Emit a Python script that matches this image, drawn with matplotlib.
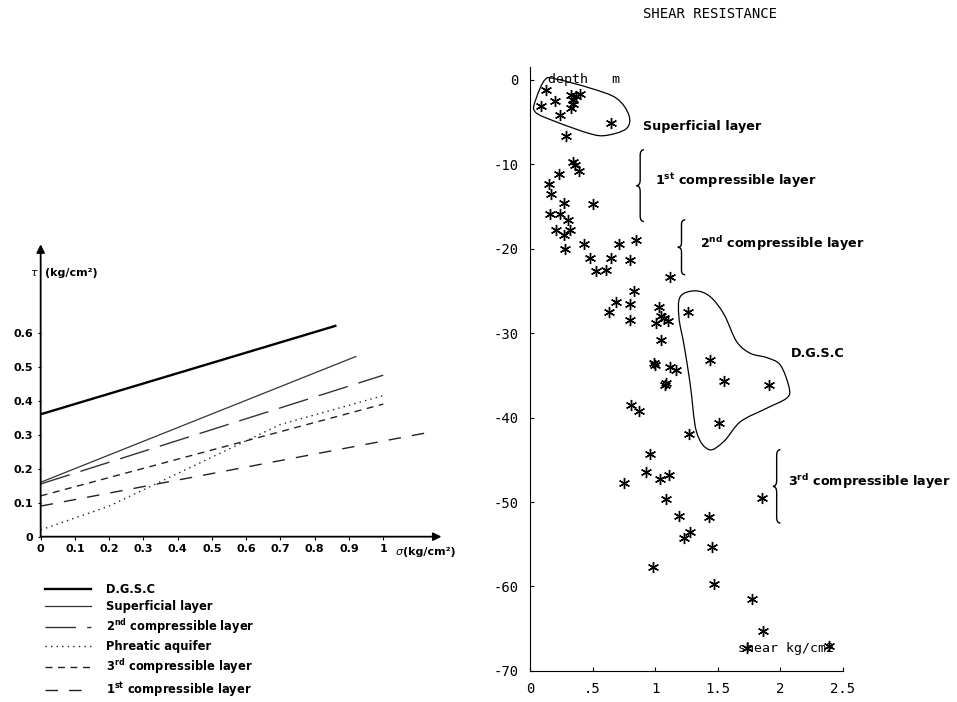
import numpy as np
import matplotlib
matplotlib.use('Agg')
import matplotlib.pyplot as plt
from matplotlib.path import Path
from matplotlib.patches import PathPatch
from matplotlib.lines import Line2D

plt.rcParams['mathtext.default'] = 'regular'

# --- left chart: strength envelopes tau = f(sigma) ---
env_names = ['D.G.S.C', 'Superficial layer', '2$^{nd}$ compressible layer',
             'Phreatic aquifer', '3$^{rd}$ compressible layer', '1$^{st}$ compressible layer']
env_sigma = [[0, 0.86], [0, 0.92], [0, 1.0], [0, 0.2, 0.45, 0.7, 1.0], [0, 1.0], [0, 1.15]]
env_tau = [[0.36, 0.62], [0.16, 0.53], [0.155, 0.475], [0.02, 0.09, 0.21, 0.33, 0.415],
           [0.12, 0.39], [0.09, 0.31]]
sigma_ticks = [0, 0.1, 0.2, 0.3, 0.4, 0.5, 0.6, 0.7, 0.8, 0.9, 1]
sigma_labels = ['0', '0.1', '0.2', '0.3', '0.4', '0.5', '0.6', '0.7', '0.8', '0.9', '1']
tau_ticks = [0, 0.1, 0.2, 0.3, 0.4, 0.5, 0.6]
tau_labels = ['0', '0.1', '0.2', '0.3', '0.4', '0.5', '0.6']

# --- right chart: shear resistance vs depth ---
shear = [0.13, 0.09, 0.20, 0.24, 0.33, 0.37, 0.40, 0.34, 0.34, 0.33, 0.65, 0.29,
         0.34, 0.36, 0.39, 0.23, 0.15, 0.17, 0.27, 0.50, 0.16, 0.24, 0.30, 0.21,
         0.32, 0.27, 0.28, 0.43, 0.71, 0.85, 0.48, 0.65, 0.80, 0.53, 0.61, 1.12,
         0.83, 0.69, 0.80, 0.63, 0.80, 1.03, 1.05, 1.01, 1.10, 1.07, 1.05, 1.26,
         1.00, 0.99, 1.12, 1.17, 1.09, 1.08, 1.44, 1.55, 1.91, 0.81, 0.87, 1.51,
         1.27, 0.96, 0.93, 0.75, 1.04, 1.11, 1.09, 1.19, 1.43, 1.23, 1.28, 1.45,
         0.98, 1.47, 1.85, 1.77, 1.86, 1.73, 2.39]
depth = [-1.2, -3.1, -2.5, -4.2, -1.8, -1.9, -1.7, -2.4, -2.9, -3.3, -5.1, -6.7,
         -9.7, -10.1, -10.8, -11.2, -12.3, -13.5, -14.6, -14.7, -15.9, -15.9, -16.6, -17.8,
         -17.8, -18.4, -20.0, -19.5, -19.4, -19.0, -21.1, -21.1, -21.3, -22.6, -22.5, -23.4,
         -25.0, -26.3, -26.5, -27.5, -28.4, -26.9, -28.0, -28.8, -28.6, -28.2, -30.8, -27.5,
         -33.8, -33.6, -34.0, -34.4, -35.9, -36.2, -33.2, -35.7, -36.1, -38.5, -39.2, -40.6,
         -41.9, -44.3, -46.5, -47.8, -47.3, -46.8, -49.7, -51.6, -51.8, -54.3, -53.5, -55.3,
         -57.7, -59.7, -49.5, -61.5, -65.3, -67.3, -67.1]
x_ticks = [0, 0.5, 1, 1.5, 2, 2.5]
x_labels = ['0', '.5', '1', '1.5', '2', '2.5']
y_ticks = [0, -10, -20, -30, -40, -50, -60, -70]
y_labels = ['0', '-10', '-20', '-30', '-40', '-50', '-60', '-70']

# outlines drawn around groups
superficial_outline = [(0.05, -2.2), (0.12, 0.0), (0.2, 0.1), (0.48, -1.0), (0.69, -2.2),
                       (0.79, -4.2), (0.77, -5.8), (0.61, -6.6), (0.48, -6.4),
                       (0.21, -5.0), (0.04, -3.8)]
dgsc_outline = [(1.32, -25.0), (1.20, -25.7), (1.19, -28.2), (1.23, -31.4), (1.28, -36.1),
                (1.33, -41.7), (1.43, -43.8), (1.55, -42.8), (1.68, -40.5), (1.89, -38.9),
                (2.05, -37.7), (2.07, -36.5), (2.0, -33.8), (1.89, -32.9), (1.76, -32.4),
                (1.65, -31.0), (1.55, -27.8), (1.44, -25.7)]
# braces: x, top, bottom
braces = [(0.88, -8.3, -16.8), (1.21, -16.6, -23.1), (1.97, -43.8, -52.5)]

mono = 'DejaVu Sans Mono'
sans = 'DejaVu Sans'


def smooth_closed(pts):
    p = np.array(pts)
    n = len(p)
    verts = [p[0]]
    codes = [Path.MOVETO]
    for i in range(n):
        p0, p1, p2, p3 = p[i - 1], p[i], p[(i + 1) % n], p[(i + 2) % n]
        verts += [p1 + (p2 - p0) / 6, p2 - (p3 - p1) / 6, p2]
        codes += [Path.CURVE4] * 3
    return Path(verts, codes)


def brace(ax, x, top, bot, w=0.03):
    h = top - bot
    ym = (top + bot) / 2
    q = 0.08 * h
    verts = [(x + w, top), (x, top), (x, top - q), (x, ym + q), (x, ym), (x - w, ym),
             (x, ym), (x, ym - q), (x, bot + q), (x, bot), (x + w, bot)]
    codes = [Path.MOVETO, Path.CURVE3, Path.CURVE3, Path.LINETO, Path.CURVE3, Path.CURVE3,
             Path.CURVE3, Path.CURVE3, Path.LINETO, Path.CURVE3, Path.CURVE3]
    ax.add_patch(PathPatch(Path(verts, codes), fill=False, lw=1.0, color='black'))


fig = plt.figure(figsize=(9.57, 7.02), dpi=100)

# ---------------- left chart ----------------
ax1 = fig.add_axes([0.0425, 0.2355, 0.4117, 0.4068])
styles = [dict(lw=1.7, color='black', ls='-'),
          dict(lw=0.9, color='#333333', ls='-'),
          dict(lw=1.0, color='#333333', ls=(0, (22, 8))),
          dict(lw=1.0, color='#222222', ls=(0, (1, 3))),
          dict(lw=1.0, color='#222222', ls=(0, (5, 4))),
          dict(lw=1.0, color='#222222', ls=(0, (9, 8)))]
for s, t, st in zip(env_sigma, env_tau, styles):
    ax1.plot(s, t, **st)
ax1.set_xlim(0, 1.15)
ax1.set_ylim(0, 0.84)
for sp in ax1.spines.values():
    sp.set_visible(False)
ax1.annotate('', xy=(1.17, 0), xytext=(0, 0), xycoords='data',
             arrowprops=dict(arrowstyle='-|>', lw=1.3, color='black', shrinkA=0, shrinkB=0,
                             mutation_scale=12), annotation_clip=False)
ax1.annotate('', xy=(0, 0.86), xytext=(0, 0), xycoords='data',
             arrowprops=dict(arrowstyle='-|>', lw=1.3, color='black', shrinkA=0, shrinkB=0,
                             mutation_scale=12), annotation_clip=False)
ax1.set_xticks(sigma_ticks)
ax1.set_xticklabels(sigma_labels, fontfamily=sans, fontweight='bold', fontsize=8)
ax1.set_yticks(tau_ticks)
ax1.set_yticklabels(tau_labels, fontfamily=sans, fontweight='bold', fontsize=8)
ax1.tick_params(axis='both', length=2.5, width=0.8, pad=3)
ax1.text(-0.012, 0.776, 'τ', ha='right', va='center', fontsize=8, fontfamily=sans, style='italic')
ax1.text(0.012, 0.776, '(kg/cm²)', ha='left', va='center', fontsize=8,
         fontfamily=sans, fontweight='bold')
ax1.text(1.035, -0.045, 'σ', ha='left', va='center', fontsize=8, fontfamily=sans, style='italic')
ax1.text(1.058, -0.045, '(kg/cm²)', ha='left', va='center', fontsize=8,
         fontfamily=sans, fontweight='bold')

leg_handles = [Line2D([0], [0], **st) for st in styles]
fig.legend(leg_handles, env_names, loc='upper left', bbox_to_anchor=(0.041, 0.178),
           frameon=False, handlelength=4.0, handletextpad=1.3, labelspacing=0.36,
           prop=dict(family=sans, weight='bold', size=8.3), borderpad=0)

# ---------------- right chart ----------------
ax2 = fig.add_axes([0.5538, 0.0442, 0.3271, 0.8604])
ax2.plot(shear, depth, ls='none', marker=(6, 2, 0), ms=8, mew=1.0, color='black')
ax2.set_xlim(0, 2.5)
ax2.set_ylim(-70, 1.5)
ax2.spines['top'].set_visible(False)
ax2.spines['right'].set_visible(False)
ax2.set_xticks(x_ticks)
ax2.set_xticklabels(x_labels, fontfamily=mono, fontsize=10)
ax2.set_yticks(y_ticks)
ax2.set_yticklabels(y_labels, fontfamily=mono, fontsize=10)
ax2.tick_params(axis='both', direction='in', length=3, width=0.8)
ax2.tick_params(axis='x', pad=8)
ax2.tick_params(axis='y', pad=8)

ax2.add_patch(PathPatch(smooth_closed(superficial_outline), fill=False, lw=0.9, color='black'))
ax2.add_patch(PathPatch(smooth_closed(dgsc_outline), fill=False, lw=0.9, color='black'))
for bx, bt, bb in braces:
    brace(ax2, bx, bt, bb)

ax2.text(0.14, 0.0, 'depth   m', fontfamily=mono, fontsize=9.5, va='center')
ax2.text(1.66, -67.3, 'shear kg/cm2', fontfamily=mono, fontsize=9.5, va='center')
ann = dict(fontfamily=sans, fontweight='bold', fontsize=9.2, va='center', clip_on=False)
ax2.text(0.9, -5.6, 'Superficial layer', **ann)
ax2.text(1.0, -12.0, '1$^{st}$ compressible layer', **ann)
ax2.text(1.36, -19.4, '2$^{nd}$ compressible layer', **ann)
ax2.text(2.08, -32.4, 'D.G.S.C', **ann)
ax2.text(2.06, -47.6, '3$^{rd}$ compressible layer', **ann)

fig.text(0.742, 0.98, 'SHEAR RESISTANCE', fontfamily=mono, fontsize=10, ha='center', va='center')

fig.savefig('out.png', dpi=100)
